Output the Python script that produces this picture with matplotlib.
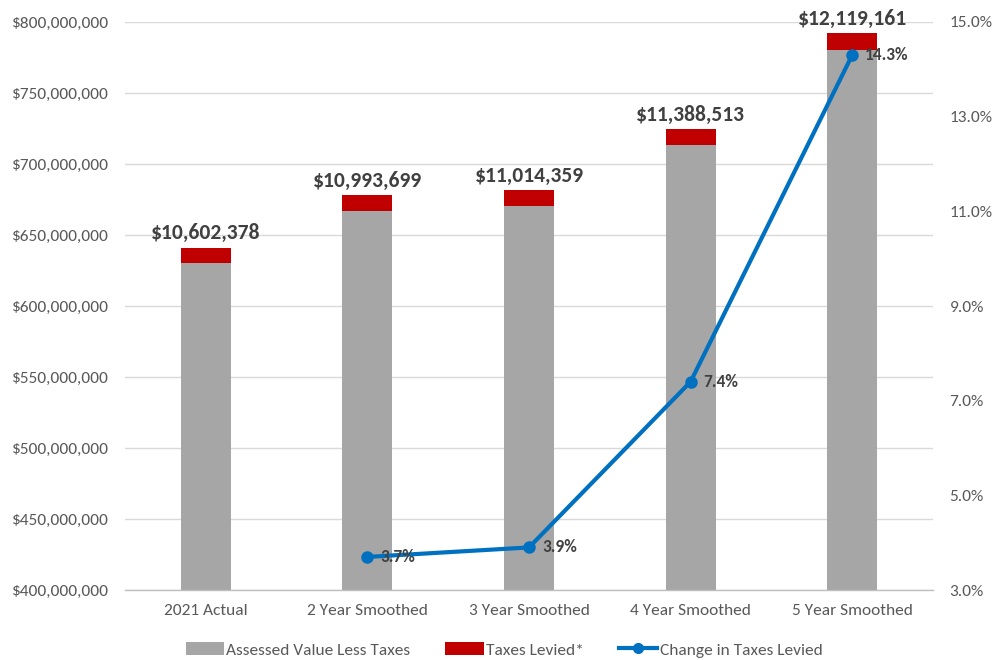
import matplotlib
matplotlib.use("Agg")
import matplotlib.pyplot as plt
from matplotlib.ticker import FuncFormatter, FixedLocator
from matplotlib.lines import Line2D
from matplotlib.patches import Patch

plt.rcParams['font.family'] = ['Carlito', 'Lato', 'DejaVu Sans']

categories = ["2021 Actual", "2 Year Smoothed", "3 Year Smoothed", "4 Year Smoothed", "5 Year Smoothed"]
assessed_less_taxes = [630_500_000, 667_100_000, 670_400_000, 713_400_000, 780_300_000]
taxes_levied = [10_602_378, 10_993_699, 11_014_359, 11_388_513, 12_119_161]
change_pct = [None, 3.7, 3.9, 7.4, 14.3]

GRAY = "#a6a6a6"
RED = "#c00000"
BLUE = "#0070c0"
TXT = "#595959"
LBL = "#404040"

fig = plt.figure(figsize=(9.94, 6.6), dpi=100)
ax = fig.add_axes([0.1258, 0.106, 0.8128, 0.8607])

x = list(range(len(categories)))
width = 0.31
ax.bar(x, assessed_less_taxes, width=width, color=GRAY, zorder=2)
ax.bar(x, taxes_levied, width=width, bottom=assessed_less_taxes, color=RED, zorder=2)

ax.set_xlim(-0.5, len(categories) - 0.5)
ax.set_ylim(400_000_000, 800_000_000)
ax.yaxis.set_major_locator(FixedLocator([400_000_000 + 50_000_000 * i for i in range(9)]))
ax.yaxis.set_major_formatter(FuncFormatter(lambda v, p: f"${v:,.0f}"))
ax.grid(axis="y", color="#d9d9d9", linewidth=1, zorder=0)
ax.set_axisbelow(True)
ax.set_xticks(x)
ax.set_xticklabels(categories)
ax.tick_params(axis="x", length=0, labelsize=12.5, colors=TXT, pad=10)
ax.tick_params(axis="y", length=0, labelsize=12.5, colors=TXT, pad=12)
for s in ["top", "right", "left"]:
    ax.spines[s].set_visible(False)
ax.spines["bottom"].set_color("#bfbfbf")
ax.spines["bottom"].set_linewidth(1)

for xi, base, tax in zip(x, assessed_less_taxes, taxes_levied):
    ax.text(xi, base + tax + 3_000_000, f"${tax:,.0f}", ha="center", va="bottom",
            fontsize=15.5, fontweight="bold", color=LBL, zorder=5)

ax2 = ax.twinx()
ax2.set_ylim(3.0, 15.0)
ax2.yaxis.set_major_locator(FixedLocator([3, 5, 7, 9, 11, 13, 15]))
ax2.yaxis.set_major_formatter(FuncFormatter(lambda v, p: f"{v:.1f}%"))
ax2.tick_params(axis="y", length=0, labelsize=12.5, colors=TXT, pad=12)
for s in ax2.spines.values():
    s.set_visible(False)

lx = [xi for xi, v in zip(x, change_pct) if v is not None]
ly = [v for v in change_pct if v is not None]
ax2.plot(lx, ly, color=BLUE, linewidth=3, marker="o", markersize=8, zorder=4)
for xi, v in zip(lx, ly):
    ax2.text(xi + 0.08, v, f"{v:.1f}%", ha="left", va="center",
             fontsize=12.5, fontweight="bold", color=LBL, zorder=5)

handles = [
    Patch(facecolor=GRAY, label="Assessed Value Less Taxes"),
    Patch(facecolor=RED, label="Taxes Levied*"),
    Line2D([0], [0], color=BLUE, linewidth=3, marker="o", markersize=7, label="Change in Taxes Levied"),
]
fig.legend(handles=handles, loc="lower center", bbox_to_anchor=(0.507, -0.02), ncol=3,
           frameon=False, fontsize=12.5, labelcolor=TXT, handlelength=2.2,
           handleheight=0.7, columnspacing=2.0, handletextpad=0.15)

fig.savefig("out.png", dpi=100)
